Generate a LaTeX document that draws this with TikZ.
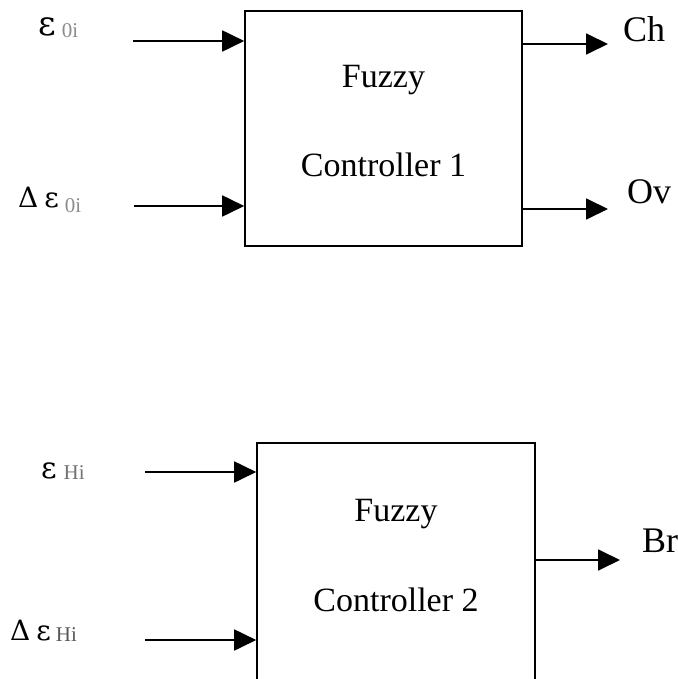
\documentclass[tikz,border=0pt]{standalone}
\usepackage{fontspec}
\setmainfont{Liberation Serif}
\newfontfamily\grk{DejaVu Serif}
\usetikzlibrary{arrows.meta}
\begin{document}
\begin{tikzpicture}[x=1pt,y=-1pt,
  blk/.style={draw,line width=1.6pt,minimum width=277pt,minimum height=235pt,inner sep=0pt},
  inner/.style={font=\fontsize{34}{40}\selectfont},
  sig/.style={line width=1.8pt,-{Triangle[length=22pt,width=21pt]}},
  lbl/.style={font=\fontsize{36}{38}\selectfont,inner sep=0pt,anchor=base west}]
\useasboundingbox (0,0) rectangle (677,679);
\clip (0,0) rectangle (677,679);
\fill[white] (0,0) rectangle (677,679);
\newcommand{\eps}[1]{{\grk\fontsize{#1}{#1}\selectfont ε}}
\newcommand{\dlt}{{\grk\fontsize{28}{28}\selectfont Δ}}
\newcommand{\subsc}[3]{\raisebox{-#2pt}{\fontsize{21}{21}\selectfont\color{black!#3}#1}}
% controller 1
\node[blk] (c1) at (383.5,128.5) {};
\node[inner] (c1a) at (383.5,80) {Fuzzy};
\node[inner] (c1b) at (383.5,165) {Controller 1};
\coordinate (i1) at (133,41);
\coordinate (i2) at (134,206);
\coordinate (o1) at (608,44);
\coordinate (o2) at (608,209);
\draw[sig] (i1) -- (c1.west |- i1);
\draw[sig] (i2) -- (c1.west |- i2);
\draw[sig] (c1.east |- o1) -- (o1);
\draw[sig] (c1.east |- o2) -- (o2);
\node[lbl] (e1) at (38,36) {\eps{34}\hspace{6pt}\subsc{0i}{2}{45}};
\node[lbl] (de1) at (18,207) {\dlt\hspace{6pt}\eps{28}\hspace{6pt}\subsc{0i}{5}{45}};
\node[lbl] (ch) at (623,42) {Ch};
\node[lbl] (ov) at (627,203) {Ov};
% controller 2
\node[blk,minimum width=278pt,minimum height=247pt] (c2) at (396,566.5) {};
\node[inner] (c2a) at (396,514) {Fuzzy};
\node[inner] (c2b) at (396,600) {Controller 2};
\coordinate (j1) at (145,472);
\coordinate (j2) at (145,640);
\coordinate (p1) at (620,560);
\draw[sig] (j1) -- (c2.west |- j1);
\draw[sig] (j2) -- (c2.west |- j2);
\draw[sig] (c2.east |- p1) -- (p1);
\node[lbl] (e2) at (41,478) {\eps{30}\hspace{7pt}\subsc{Hi}{1}{55}};
\node[lbl] (de2) at (10,640) {\dlt\hspace{6pt}\eps{28}\hspace{5pt}\subsc{Hi}{1}{65}};
\node[lbl] (br) at (642,552) {Br};
\end{tikzpicture}
\end{document}
